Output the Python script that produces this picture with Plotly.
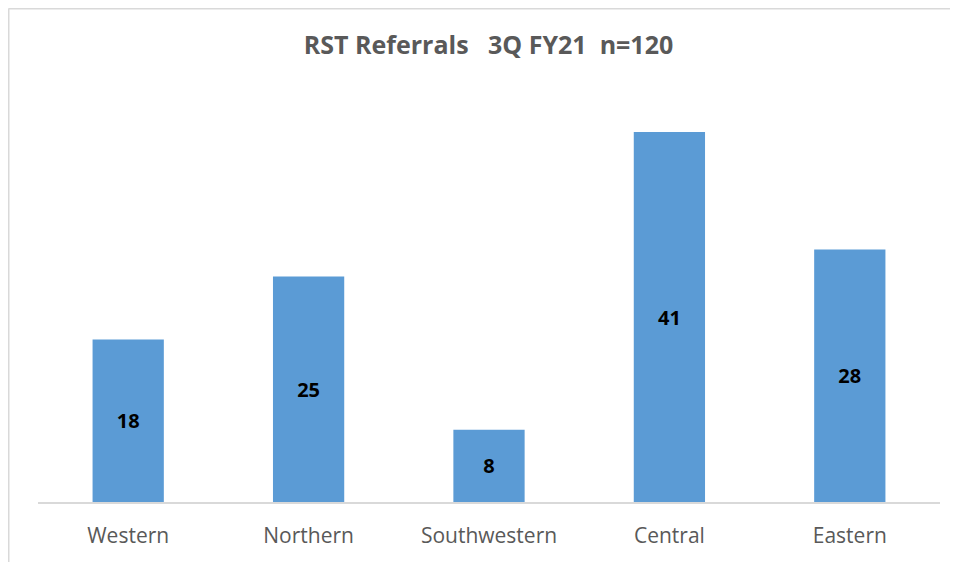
import plotly.graph_objs as go

regions = ["Western", "Northern", "Southwestern", "Central", "Eastern"]
referrals = [18, 25, 8, 41, 28]

# page body has an 8px margin, so the figure is laid out 8px smaller
W, H = 950, 554
L, R, T, B = 30, 18, 88, 60
pw, ph = W - L - R, H - T - B

fig = go.Figure()

fig.add_trace(go.Bar(
    x=regions,
    y=referrals,
    width=0.395,
    marker=dict(color='#5B9BD5', line=dict(width=0)),
    text=[str(v) for v in referrals],
    textposition='inside',
    insidetextanchor='middle',
    textfont=dict(family='Open Sans', size=20, color='black', weight='bold'),
    name='Referrals'
))

fig.update_layout(
    template='plotly_white',
    paper_bgcolor='white',
    plot_bgcolor='white',
    width=W,
    height=H,
    margin=dict(l=L, r=R, t=T, b=B),
    showlegend=False,
    title=dict(
        text="<b>RST Referrals   3Q FY21  n=120</b>",
        x=480.5 / W, xanchor='center', y=1 - 37 / H, yanchor='middle',
        font=dict(family='Open Sans', size=25, color='#595959')
    ),
    xaxis=dict(
        showgrid=False,
        showline=True,
        linecolor='#D9D9D9',
        linewidth=2,
        ticks='',
        ticklabelstandoff=14,
        tickfont=dict(family='Open Sans', size=21, color='#595959'),
    ),
    yaxis=dict(range=[0, 45], visible=False, showgrid=False, zeroline=False),
    shapes=[
        dict(type='line', xref='paper', yref='paper',
             x0=(0.5 - L) / pw, x1=1 + R / pw,
             y0=(ph + T - 0.5) / ph, y1=(ph + T - 0.5) / ph,
             line=dict(color='#D9D9D9', width=2)),
        dict(type='line', xref='paper', yref='paper',
             x0=(0.5 - L) / pw, x1=(0.5 - L) / pw,
             y0=(ph + T - 0.5) / ph, y1=-B / ph,
             line=dict(color='#D9D9D9', width=2)),
    ]
)

fig.write_html("out.html")
